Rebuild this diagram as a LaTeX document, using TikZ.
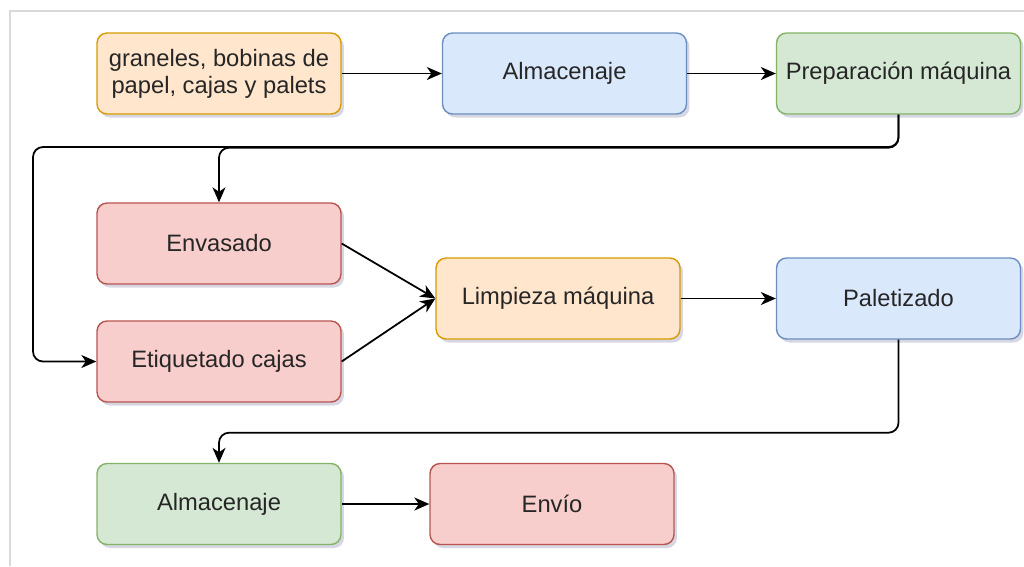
\documentclass[tikz,border=0pt]{standalone}
\usepackage{fontspec}
\setmainfont{Liberation Sans}
\usetikzlibrary{arrows.meta,shadows}

\definecolor{orangefill}{HTML}{FFE6CC}
\definecolor{orangeline}{HTML}{D79B00}
\definecolor{bluefill}{HTML}{DAE8FC}
\definecolor{blueline}{HTML}{6C8EBF}
\definecolor{greenfill}{HTML}{D5E8D4}
\definecolor{greenline}{HTML}{82B366}
\definecolor{redfill}{HTML}{F8CECC}
\definecolor{redline}{HTML}{B85450}
\definecolor{textgray}{HTML}{262626}

\tikzset{
  box/.style={rectangle, rounded corners=0.2cm, line width=0.8pt,
    minimum width=4.88cm, minimum height=1.62cm, align=center,
    text=textgray, font=\fontsize{13.5}{15.5}\selectfont,
    drop shadow={shadow xshift=0.06cm, shadow yshift=-0.07cm, opacity=0.35, fill=blue!30!black!45}},
  orangebox/.style={box, fill=orangefill, draw=orangeline},
  bluebox/.style={box, fill=bluefill, draw=blueline},
  greenbox/.style={box, fill=greenfill, draw=greenline},
  redbox/.style={box, fill=redfill, draw=redline},
  arr/.style={-{Stealth[length=3mm,width=2.6mm,inset=0.9mm]}, line width=1pt, rounded corners=0.2cm}
}

\begin{document}
\begin{tikzpicture}[x=0.02cm, y=-0.02cm]
  \useasboundingbox (0,0) rectangle (1024,566);
  \draw[black!15, line width=0.8pt] (10,566) -- (10,11) -- (1024,11);

  % first row
  \node[orangebox] (raw) at (219,73.5) {graneles, bobinas de\\papel, cajas y palets};
  \node[bluebox] (store1) at (564.5,73.5) {Almacenaje};
  \node[greenbox] (prep) at (898.5,73.5) {Preparación máquina};

  % middle
  \node[redbox] (fill) at (219,243.5) {Envasado};
  \node[redbox] (label) at (219,361.5) {Etiquetado cajas};
  \node[orangebox] (clean) at (558,298.5) {Limpieza máquina};
  \node[bluebox] (pallet) at (898.5,298.5) {Paletizado};

  % last row
  \node[greenbox] (store2) at (219,504) {Almacenaje};
  \node[redbox] (ship) at (552,504) {Envío};

  \draw[arr] (raw) -- (store1);
  \draw[arr] (store1) -- (prep);
  \draw[arr] (prep.south) -- ++(0,33) -| (fill.north);
  \draw[arr] (prep.south) |- (33,147) |- (label.west);
  \draw[arr] (fill.east) -- (clean.west);
  \draw[arr] (label.east) -- (clean.west);
  \draw[arr] (clean) -- (pallet);
  \draw[arr] (pallet.south) -- ++(0,93) -| (store2.north);
  \draw[arr] (store2) -- (ship);
\end{tikzpicture}
\end{document}
